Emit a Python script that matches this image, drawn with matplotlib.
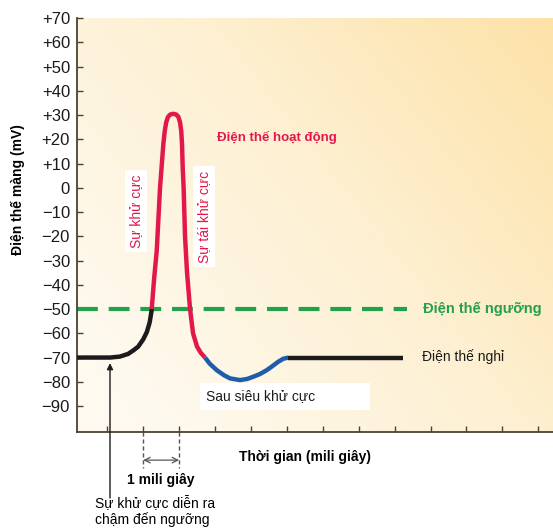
import numpy as np
import matplotlib
matplotlib.use("Agg")
import matplotlib.pyplot as plt
from matplotlib.colors import LinearSegmentedColormap
from matplotlib.patches import Rectangle

plt.rcParams['font.family'] = ['Liberation Sans', 'DejaVu Sans']

# --- data (time in ms, potential in mV) ---
rest_t = [0.156, 1.08, 1.35, 1.58, 1.73, 1.86, 2.0, 2.1, 2.18, 2.24]
rest_v = [-70, -70, -69.6, -68.5, -67, -65.5, -62.5, -59.5, -55.5, -50]

spike_t = [2.237, 2.30, 2.376, 2.468, 2.56, 2.60, 2.64, 2.69, 2.75, 2.838,
           2.92, 2.98, 3.025, 3.058, 3.08, 3.10, 3.125, 3.164, 3.22, 3.304,
           3.387, 3.499, 3.6, 3.72]
spike_v = [-50, -38, -26, 0, 18, 23.5, 27, 29.2, 30.2, 30.5,
           30.2, 29.2, 27, 23.5, 18, 8, 0, -20, -35, -50,
           -60, -65.5, -68, -70]

hyper_t = [3.72, 3.85, 4.047, 4.25, 4.418, 4.696, 4.9, 5.067, 5.25, 5.44, 5.6, 5.763, 5.9, 6.042]
hyper_v = [-70, -72.5, -75.2, -77.3, -78.6, -79.3, -78.8, -77.9, -76.8, -75.2, -73.5, -71.7, -70.5, -70]

after_t = [6.042, 9.245]
after_v = [-70, -70]

threshold_t = [0.156, 9.35]
threshold_v = [-50, -50]

yticks = list(range(70, -91, -10))
ytick_labels = [("+%d" % v) if v > 0 else ("0" if v == 0 else "\u2212%d" % -v) for v in yticks]
xticks = list(range(1, 14))

RED = '#e2184a'
BLUE = '#1f5dab'
BLACK = '#1b1b1b'
GREEN = '#22a04a'
AXC = '#4a4234'

fig = plt.figure(figsize=(5.53, 5.29), dpi=100)
ax = fig.add_axes([77 / 553, 1 - 432 / 529, 1 - 77 / 553, (432 - 18) / 529])
ax.set_xlim(0.156, 13.41)
ax.set_ylim(-100.7, 70)

# background gradient
nx, ny = 200, 200
gx, gy = np.meshgrid(np.linspace(0, 1, nx), np.linspace(0, 1, ny))
grad = np.clip(0.65 * gx + 0.45 * gy - 0.1, 0, 1)
cmap = LinearSegmentedColormap.from_list('bg', ['#fffaf0', '#fdf0d2', '#fde2a8'])
ax.imshow(grad, origin='lower', extent=[0, 1, 0, 1], transform=ax.transAxes,
          cmap=cmap, aspect='auto', zorder=0, interpolation='bicubic')

# curves
ax.plot(threshold_t, threshold_v, color=GREEN, lw=3, dashes=(5, 2.6), zorder=2)
ax.plot(rest_t, rest_v, color=BLACK, lw=3.2, solid_capstyle='butt', zorder=3)
ax.plot(spike_t, spike_v, color=RED, lw=3.2, solid_capstyle='butt',
        solid_joinstyle='round', zorder=3)
ax.plot(hyper_t, hyper_v, color=BLUE, lw=3.2, solid_capstyle='butt', zorder=3)
ax.plot(after_t, after_v, color=BLACK, lw=3.2, solid_capstyle='butt', zorder=3)

# axes styling
for s in ['top', 'right']:
    ax.spines[s].set_visible(False)
for s in ['left', 'bottom']:
    ax.spines[s].set_color(AXC)
    ax.spines[s].set_linewidth(1.3)
ax.set_yticks(yticks)
ax.set_yticklabels(ytick_labels)
ax.set_xticks(xticks)
ax.set_xticklabels([])
ax.tick_params(direction='in', length=4.5, width=1, color=AXC, labelsize=12,
               labelcolor='#1a1a1a', pad=5)

# annotations
ax.text(4.05, 20.9, 'Điện thế hoạt động', color=RED, fontsize=9.5,
        fontweight='bold', va='center', ha='left', zorder=4)
ax.text(1.8, -9.6, 'Sự khử cực', color=RED, fontsize=10, rotation=90,
        ha='center', va='center', zorder=4,
        bbox=dict(facecolor='white', edgecolor='none', pad=3))
ax.text(3.69, -11.9, 'Sự tái khử cực', color=RED, fontsize=10, rotation=90,
        ha='center', va='center', zorder=4,
        bbox=dict(facecolor='white', edgecolor='none', pad=3))
ax.add_patch(Rectangle((3.588, -91.6), 8.32 - 3.588, 11.1, facecolor='white',
                       edgecolor='none', zorder=4))
ax.text(3.76, -86, 'Sau siêu khử cực', color=BLACK, fontsize=10,
        ha='left', va='center', zorder=5)
ax.text(9.8, -50, 'Điện thế ngưỡng', color=GREEN, fontsize=10.5,
        fontweight='bold', ha='left', va='center')
ax.text(9.75, -69.7, 'Điện thế nghỉ', color=BLACK, fontsize=10,
        ha='left', va='center')

# 1 ms marker below the axis
for xv in [2.0, 3.0]:
    ax.plot([xv, xv], [-100.7, -115.5], color='#555555', lw=1, ls=(0, (3, 2)),
            clip_on=False)
ax.annotate('', xy=(2.0, -112.3), xytext=(3.0, -112.3),
            arrowprops=dict(arrowstyle='<->', color='#555555', lw=0.9,
                            shrinkA=0, shrinkB=0), annotation_clip=False)
ax.text(2.5, -120.5, '1 mili giây', fontsize=10, fontweight='bold',
        ha='center', va='center', clip_on=False)

# slow depolarization arrow
ax.annotate('', xy=(1.075, -72.3), xytext=(1.075, -127.9),
            arrowprops=dict(arrowstyle='-|>', color=BLACK, lw=1,
                            mutation_scale=9, shrinkA=0, shrinkB=0),
            annotation_clip=False)
fig.text(95 / 553, 1 - 511 / 529, 'Sự khử cực diễn ra\nchậm đến ngưỡng',
         fontsize=10, ha='left', va='center', linespacing=1.25)

fig.text(305 / 553, 1 - 457 / 529, 'Thời gian (mili giây)', fontsize=10,
         fontweight='bold', ha='center', va='center')
fig.text(18 / 553, 1 - 190 / 529, 'Điện thế màng (mV)', fontsize=10,
         fontweight='bold', rotation=90, ha='center', va='center')

fig.savefig('out.png', dpi=100, facecolor='white')
